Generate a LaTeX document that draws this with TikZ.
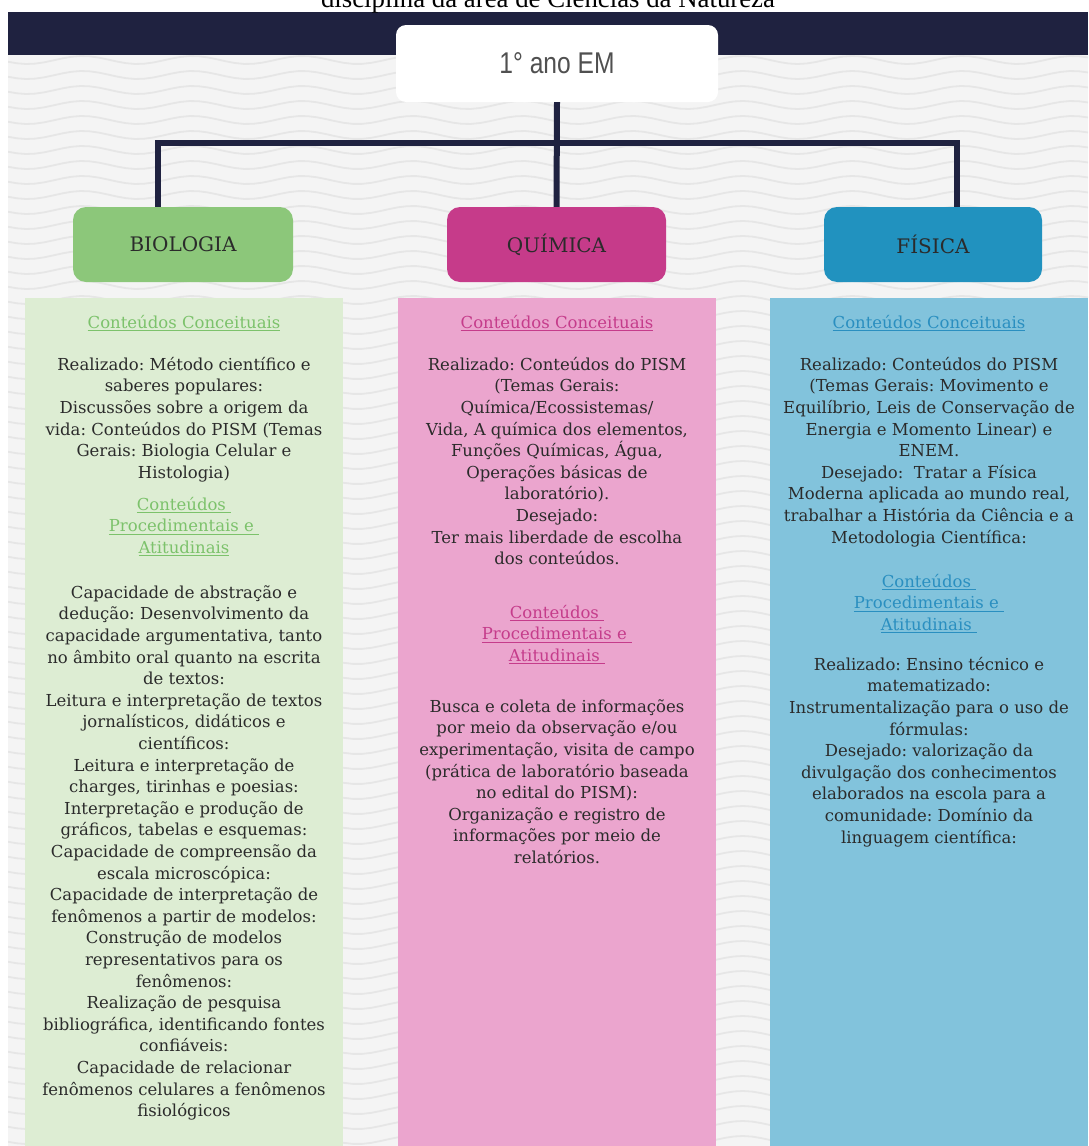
\documentclass[tikz,border=0pt]{standalone}
\usepackage{fontspec}
\setmainfont{DejaVu Serif}
\newfontfamily\capfont{Liberation Serif}
\newfontfamily\titlefont[FakeStretch=0.82]{Liberation Sans}
\definecolor{navy}{HTML}{1F2240}
\definecolor{bgc}{HTML}{F4F4F4}
\definecolor{wavec}{HTML}{E6E6E6}
\definecolor{gbox}{HTML}{8CC77A}
\definecolor{gpan}{HTML}{DDEDD3}
\definecolor{ghead}{HTML}{7CC26B}
\definecolor{mbox}{HTML}{C63B8A}
\definecolor{mpan}{HTML}{EBA5CE}
\definecolor{mhead}{HTML}{C53C8B}
\definecolor{bbox}{HTML}{2192BF}
\definecolor{bpan}{HTML}{82C3DC}
\definecolor{bhead}{HTML}{2A8FC0}
\definecolor{bodyc}{HTML}{2B2B2B}
\definecolor{titlec}{HTML}{505050}
\frenchspacing
\newcommand\myul[1]{\setbox0=\hbox{#1}\rlap{\rule[-2.8pt]{\wd0}{0.9pt}}\box0}
\newcommand\bodyfont{\fontsize{16.5}{21.6}\selectfont}
\begin{document}
\begin{tikzpicture}[x=1pt,y=-1pt,
  conn/.style={draw=navy,line width=6pt,line join=miter},
  subj/.style={rounded corners=13pt,minimum height=75pt,inner sep=0pt,text=bodyc,font=\fontsize{20}{24}\selectfont},
  panel/.style={anchor=north west,inner sep=0pt,minimum height=848pt,minimum width=318pt},
  txt/.style={anchor=north,inner sep=0pt,align=center,font=\bodyfont,text=bodyc}]
\useasboundingbox (0,0) rectangle (1088,1146);
\fill[white] (0,0) rectangle (1088,1146);
\fill[bgc] (8,55) rectangle (1088,1146);
\begin{scope}
\clip (8,55) rectangle (1088,1146);
\foreach \k in {0,...,73}
  \draw[wavec,line width=1.8pt] plot[domain=8:1088,samples=120] (\x,{60+\k*15+4*sin(\x/110*360)});
\end{scope}
\fill[navy] (8,12) rectangle (1088,55);
% caption (cut at the top)
\node[anchor=base,inner sep=0pt,font=\capfont\fontsize{26.8}{30}\selectfont] (cap) at (548,7) {disciplina da área de Ciências da Natureza};
% title
\node[fill=white,rounded corners=10pt,minimum width=322pt,minimum height=77pt,inner sep=0pt,text=titlec,font=\titlefont\fontsize{30}{34}\selectfont] (title) at (557,63.5) {1° ano EM};
% subject boxes
\node[subj,fill=gbox,minimum width=220pt] (bio) at (183,244.5) {BIOLOGIA};
\node[subj,fill=mbox,minimum width=219pt] (chem) at (556.5,244.5) {QUÍMICA};
\node[subj,fill=bbox,minimum width=218pt] (phys) at (933,244.5) {FÍSICA};
% connectors
\coordinate (bj) at (158,142.5);
\coordinate (pj) at (957,142.5);
\draw[conn] (bj |- bio.north) -- (bj) -- (pj) -- (pj |- phys.north);
\draw[conn] (title.south) -- (chem.north);
% panels
\node[panel,fill=gpan] (gp) at (25,298) {};
\node[panel,fill=mpan] (mp) at (398,298) {};
\node[panel,fill=bpan] (bp) at (770,298) {};
% biology texts
\node[txt,text=ghead] (g1) at (184,313) {\strut\myul{Conteúdos Conceituais}};
\node[txt] (g2) at (184,355) {\strut Realizado: Método científico e\\
saberes populares:\\
Discussões sobre a origem da\\
vida: Conteúdos do PISM (Temas\\
Gerais: Biologia Celular e\\
Histologia)};
\node[txt,text=ghead] (g3) at (184,495) {\strut\myul{Conteúdos\ }\\ \myul{Procedimentais e\ }\\ \myul{Atitudinais}};
\node[txt] (g4) at (184,583) {\strut Capacidade de abstração e\\
dedução: Desenvolvimento da\\
capacidade argumentativa, tanto\\
no âmbito oral quanto na escrita\\
de textos:\\
Leitura e interpretação de textos\\
jornalísticos, didáticos e\\
científicos:\\
Leitura e interpretação de\\
charges, tirinhas e poesias:\\
Interpretação e produção de\\
gráficos, tabelas e esquemas:\\
Capacidade de compreensão da\\
escala microscópica:\\
Capacidade de interpretação de\\
fenômenos a partir de modelos:\\
Construção de modelos\\
representativos para os\\
fenômenos:\\
Realização de pesquisa\\
bibliográfica, identificando fontes\\
confiáveis:\\
Capacidade de relacionar\\
fenômenos celulares a fenômenos\\
fisiológicos};
% chemistry texts
\node[txt,text=mhead] (m1) at (557,313) {\strut\myul{Conteúdos Conceituais}};
\node[txt] (m2) at (557,355) {\strut Realizado: Conteúdos do PISM\\
(Temas Gerais:\\
Química/Ecossistemas/\\
Vida, A química dos elementos,\\
Funções Químicas, Água,\\
Operações básicas de\\
laboratório).\\
Desejado:\\
Ter mais liberdade de escolha\\
dos conteúdos.};
\node[txt,text=mhead] (m3) at (557,603) {\strut\myul{Conteúdos\ }\\ \myul{Procedimentais e\ }\\ \myul{Atitudinais\ }};
\node[txt] (m4) at (557,697) {\strut Busca e coleta de informações\\
por meio da observação e/ou\\
experimentação, visita de campo\\
(prática de laboratório baseada\\
no edital do PISM):\\
Organização e registro de\\
informações por meio de\\
relatórios.};
% physics texts
\node[txt,text=bhead] (p1) at (929,313) {\strut\myul{Conteúdos Conceituais}};
\node[txt] (p2) at (929,355) {\strut Realizado: Conteúdos do PISM\\
(Temas Gerais: Movimento e\\
Equilíbrio, Leis de Conservação de\\
Energia e Momento Linear) e\\
ENEM.\\
Desejado:\ \ Tratar a Física\\
Moderna aplicada ao mundo real,\\
trabalhar a História da Ciência e a\\
Metodologia Científica:};
\node[txt,text=bhead] (p3) at (929,572) {\strut\myul{Conteúdos\ }\\ \myul{Procedimentais e\ }\\ \myul{Atitudinais\ }};
\node[txt] (p4) at (929,655) {\strut Realizado: Ensino técnico e\\
matematizado:\\
Instrumentalização para o uso de\\
fórmulas:\\
Desejado: valorização da\\
divulgação dos conhecimentos\\
elaborados na escola para a\\
comunidade: Domínio da\\
linguagem científica:};
\end{tikzpicture}
\end{document}
